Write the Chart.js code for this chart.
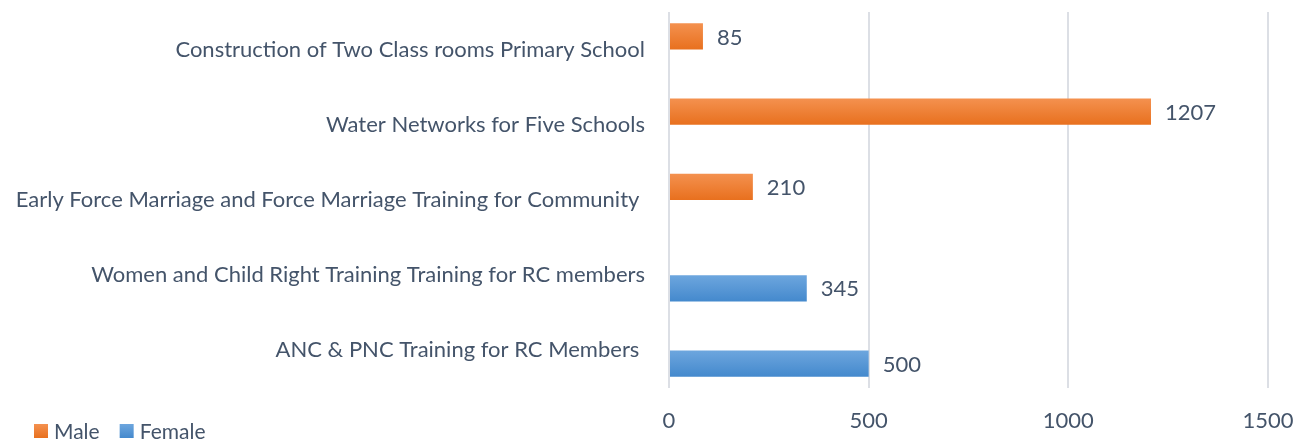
<!DOCTYPE html>
<html>
<head>
<meta charset="utf-8">
<script src="https://cdn.jsdelivr.net/npm/chart.js@4"></script>
<style>
  html, body { margin: 0; padding: 0; background: #fff; }
  #wrap { width: 1298px; height: 439px; }
</style>
</head>
<body>
<div id="wrap"><canvas id="myChart" width="1298" height="439"></canvas></div>
<script>
// categories, top to bottom
const categories = [
  'Construction of Two Class rooms Primary School',
  'Water Networks for Five Schools',
  'Early Force Marriage and Force Marriage Training for Community ',
  'Women and Child Right Training Training for RC members',
  'ANC & PNC Training for RC Members '
];
const maleValues = [85, 1207, 210, null, null];
const femaleValues = [null, null, null, 345, 500];
const xTicks = [0, 500, 1000, 1500];
const seriesNames = ['Male', 'Female'];

const textColor = '#44546A';
const fontFamily = 'Lato, sans-serif';
const fontSize = 22;
const colorStops = [['#F4914F', '#E8701E'], ['#6DA6DE', '#4489CD']];

// vertical gradient on each bar, lighter on top
const barGradient = {
  id: 'barGradient',
  beforeDatasetsDraw(chart) {
    const c = chart.ctx;
    chart.data.datasets.forEach((ds, i) => {
      chart.getDatasetMeta(i).data.forEach(bar => {
        const h = bar.height;
        const g = c.createLinearGradient(0, bar.y - h / 2, 0, bar.y + h / 2);
        g.addColorStop(0, colorStops[i][0]);
        g.addColorStop(1, colorStops[i][1]);
        bar.options = Object.assign({}, bar.options, { backgroundColor: g });
      });
    });
  }
};

// value labels at the end of each bar + legend at bottom left
const valueLabels = {
  id: 'valueLabels',
  afterDatasetsDraw(chart) {
    const c = chart.ctx;
    c.save();
    c.font = fontSize + 'px ' + fontFamily;
    c.fillStyle = textColor;
    c.textAlign = 'left';
    c.textBaseline = 'middle';
    chart.data.datasets.forEach((ds, i) => {
      chart.getDatasetMeta(i).data.forEach((bar, j) => {
        const v = ds.data[j];
        if (v == null) return;
        c.fillText(String(v), bar.x + 14, bar.y + 1);
      });
    });

    // legend
    let x = 34;
    const y = 431;
    c.font = '21px ' + fontFamily;
    seriesNames.forEach((name, i) => {
      const g = c.createLinearGradient(0, y - 7, 0, y + 7);
      g.addColorStop(0, colorStops[i][0]);
      g.addColorStop(1, colorStops[i][1]);
      c.fillStyle = g;
      c.fillRect(x, y - 7, 14, 14);
      c.fillStyle = textColor;
      c.fillText(name, x + 20, y + 1);
      x += 20 + c.measureText(name).width + 20;
    });
    c.restore();
  }
};

new Chart(document.getElementById('myChart'), {
  type: 'bar',
  data: {
    labels: categories,
    datasets: [
      { label: seriesNames[0], data: maleValues, backgroundColor: '#EE7D33', categoryPercentage: 0.7, barPercentage: 1.0 },
      { label: seriesNames[1], data: femaleValues, backgroundColor: '#5A9AD8', categoryPercentage: 0.7, barPercentage: 1.0 }
    ]
  },
  options: {
    indexAxis: 'y',
    responsive: false,
    animation: false,
    layout: { padding: { left: 4, right: 30, top: 12, bottom: 5 } },
    plugins: {
      legend: { display: false },
      tooltip: { enabled: false }
    },
    scales: {
      x: {
        min: 0,
        max: 1500,
        afterBuildTicks(scale) { scale.ticks = xTicks.map(v => ({ value: v })); },
        afterFit(scale) { scale.paddingLeft = 0; scale.paddingRight = 0; scale.height = 46; },
        grid: { color: '#DCDFE5', lineWidth: 2, drawTicks: false },
        border: { display: false },
        ticks: {
          color: textColor, padding: 20, font: { family: fontFamily, size: fontSize },
          callback: v => String(v)
        }
      },
      y: {
        grid: { display: false },
        border: { display: false },
        ticks: { color: textColor, padding: 16, font: { family: fontFamily, size: fontSize } },
        afterFit(scale) { scale.width = 665; scale.paddingTop = 0; scale.paddingBottom = 0; }
      }
    }
  },
  plugins: [barGradient, valueLabels]
});
</script>
</body>
</html>
